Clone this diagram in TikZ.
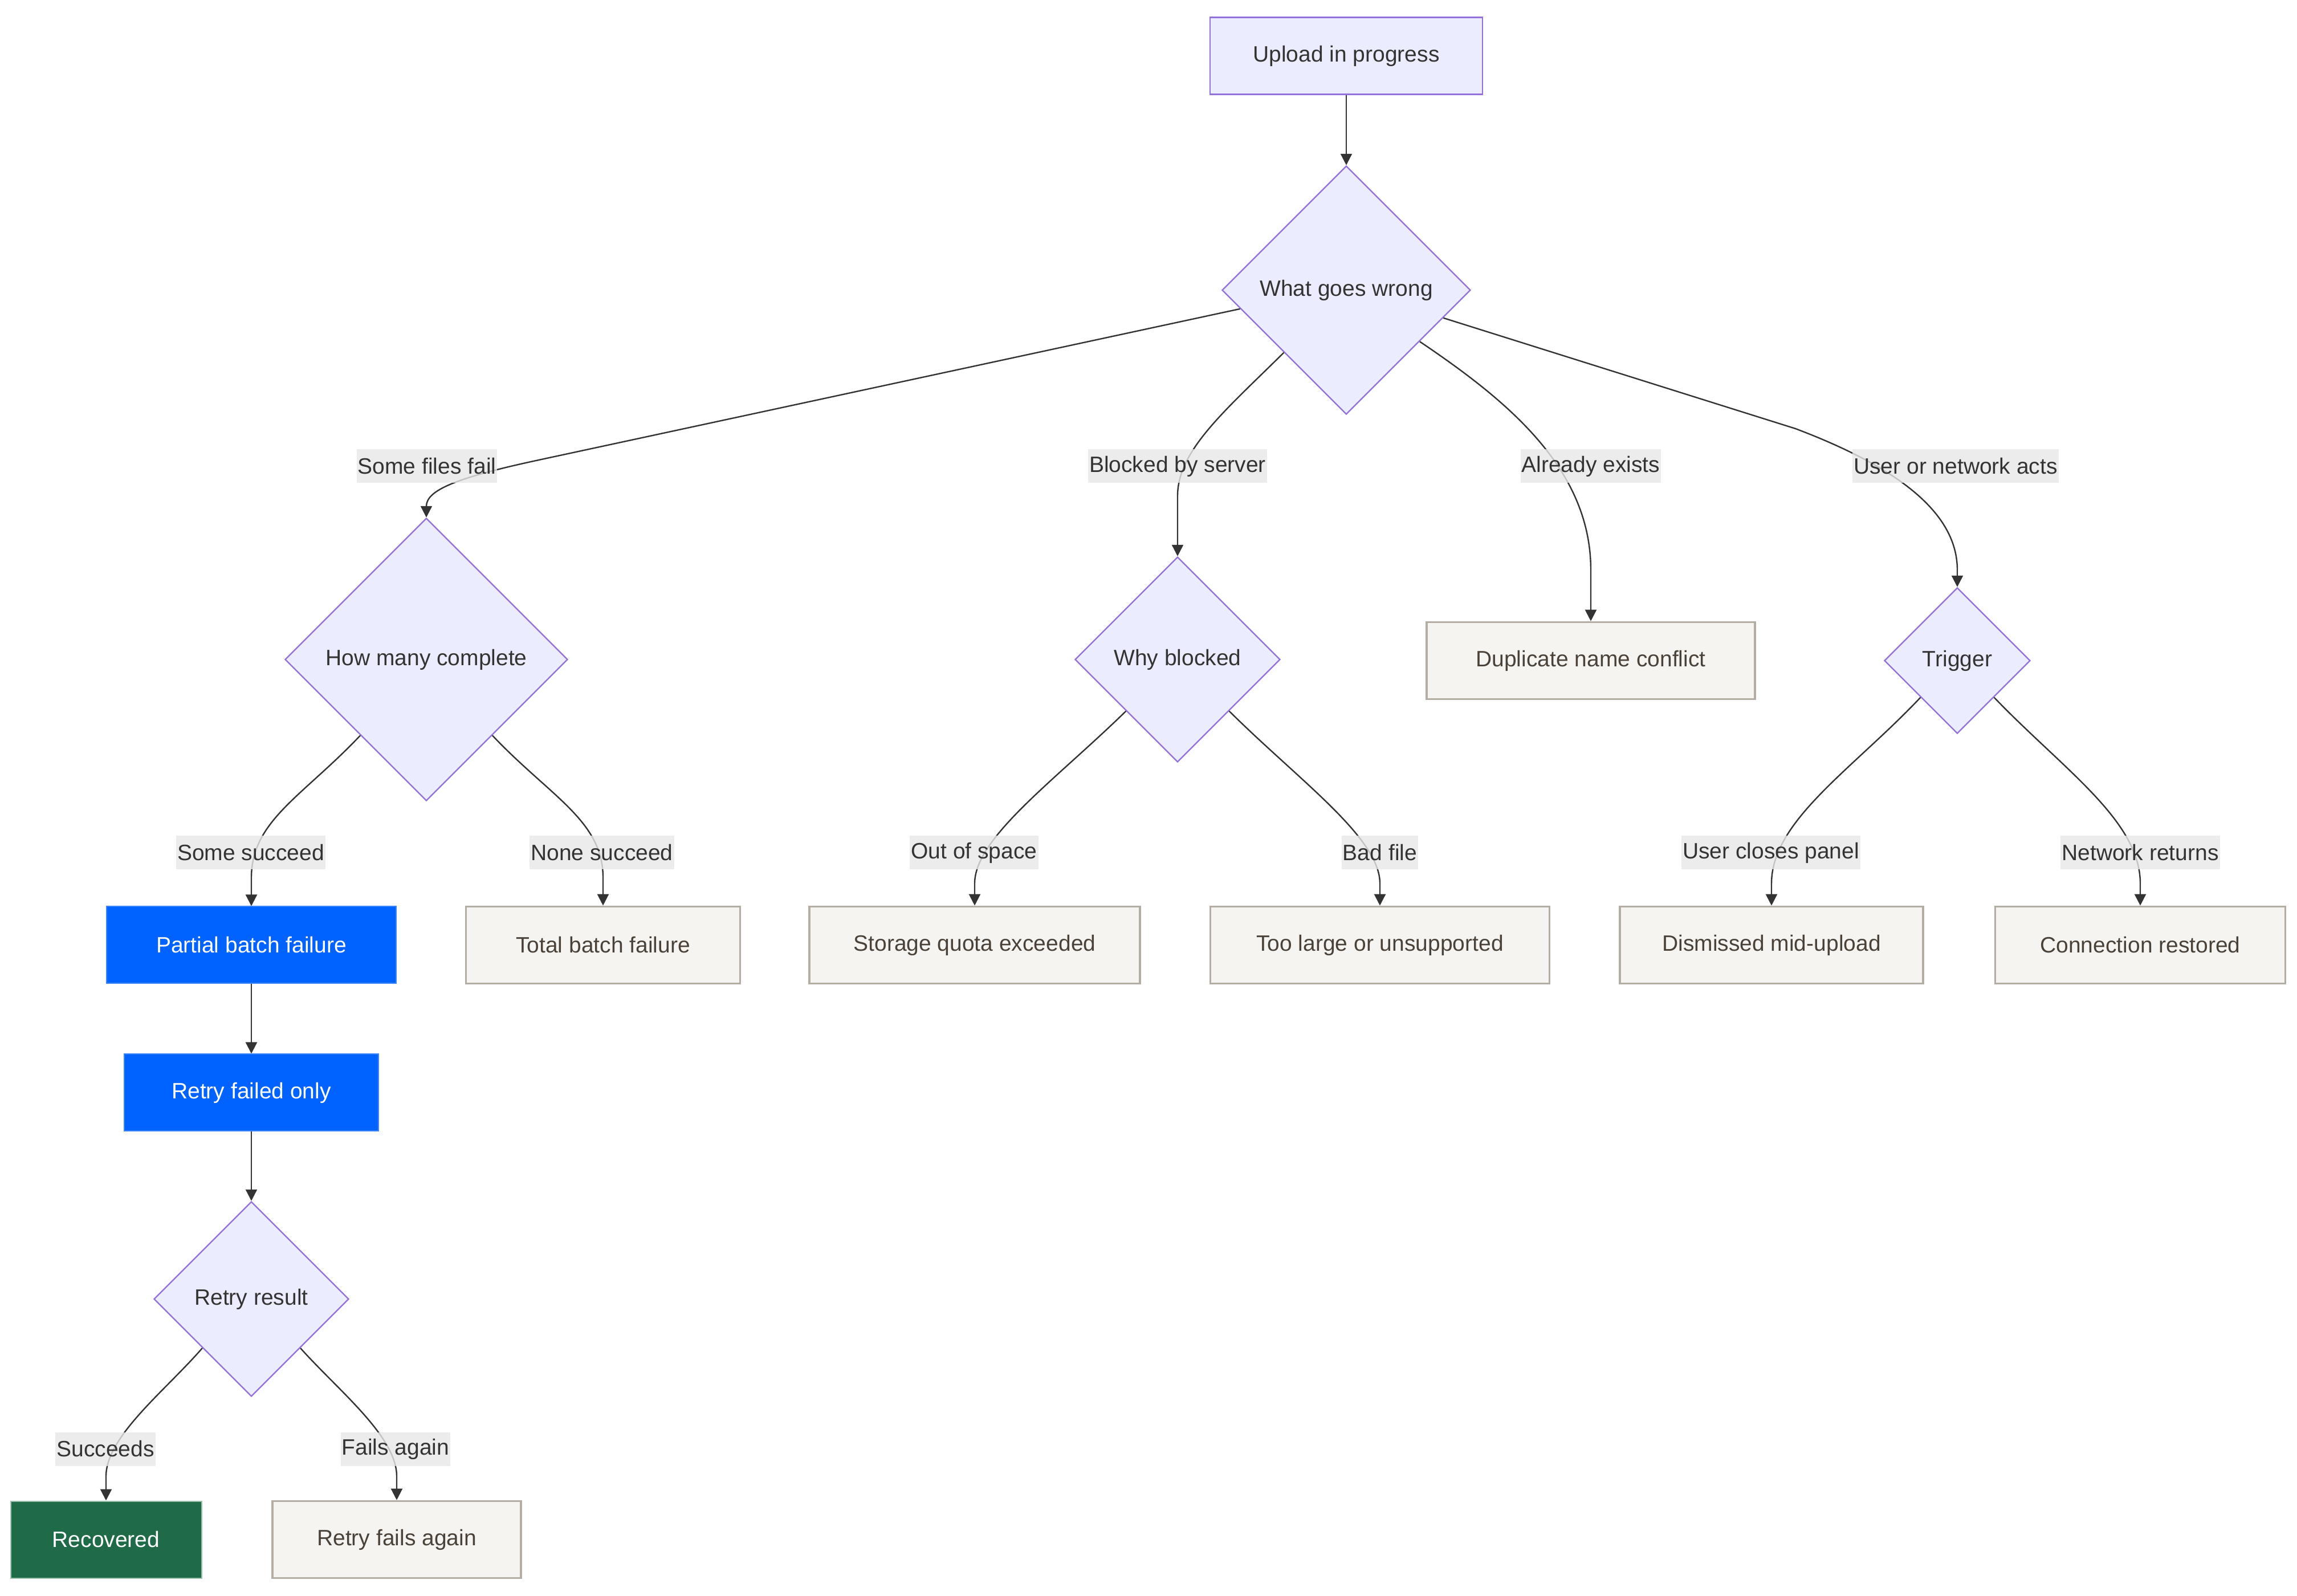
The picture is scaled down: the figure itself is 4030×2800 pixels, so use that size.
\documentclass[tikz,border=0pt]{standalone}
\usepackage{fontspec}
\setmainfont{Liberation Sans}
\usetikzlibrary{shapes.geometric,arrows.meta}
\definecolor{decfill}{HTML}{ECECFF}
\definecolor{decdraw}{HTML}{9370DB}
\definecolor{palefill}{HTML}{F5F4F0}
\definecolor{paledraw}{HTML}{B3ADA3}
\definecolor{paletext}{HTML}{4A4238}
\definecolor{bluefill}{HTML}{0062FF}
\definecolor{bluedraw}{HTML}{3D85FF}
\definecolor{greenfill}{HTML}{1F6B47}
\definecolor{greendraw}{HTML}{9CC2AC}
\definecolor{lblfill}{HTML}{E8E8E8}
\definecolor{ink}{HTML}{333333}
\begin{document}
\begin{tikzpicture}[x=0.25pt,y=-0.25pt,
  font=\fontsize{9.75}{11}\selectfont,
  base/.style={rectangle, inner sep=0pt, minimum height=33.75pt, text=ink},
  proc/.style={base, draw=decdraw, fill=decfill, line width=0.6pt},
  dec/.style={diamond, aspect=1, inner sep=0pt, draw=decdraw, fill=decfill, line width=0.6pt, text=ink},
  pale/.style={base, draw=paledraw, fill=palefill, line width=0.9pt, text=paletext},
  bluebox/.style={base, draw=bluedraw, fill=bluefill, line width=0.5pt, text=white},
  greenbox/.style={base, draw=greendraw, fill=greenfill, line width=0.5pt, text=white},
  conn/.style={draw=ink, line width=0.6pt, -{Triangle[length=5pt,width=5pt]}},
  lbl/.style={fill=lblfill, fill opacity=0.8, text opacity=1, text=ink, inner xsep=0.5pt, inner ysep=0pt, minimum height=14.75pt}
]
\fill[white] (0,0) rectangle (4030,2800);
\useasboundingbox (0,0) rectangle (4030,2800);

% nodes
\node[proc, minimum width=119.5pt] (A) at (2362,98) {Upload in progress};
\node[dec, minimum size=109pt] (B) at (2362,509) {What goes wrong};
\node[dec, minimum size=124pt] (C) at (748,1157) {How many complete};
\node[dec, minimum size=90pt] (D) at (2066,1157) {Why blocked};
\node[pale, minimum width=144pt] (E) at (2791,1159) {Duplicate name conflict};
\node[dec, minimum size=64pt] (F) at (3434,1159) {Trigger};
\node[bluebox, minimum width=127pt] (G) at (441,1658) {Partial batch failure};
\node[pale, minimum width=120.25pt] (H) at (1058,1658) {Total batch failure};
\node[pale, minimum width=145pt] (I) at (1710,1658) {Storage quota exceeded};
\node[pale, minimum width=148.75pt] (J) at (2421,1658) {Too large or unsupported};
\node[pale, minimum width=133pt] (K) at (3108,1658) {Dismissed mid-upload};
\node[pale, minimum width=127.25pt] (L) at (3755,1658) {Connection restored};
\node[bluebox, minimum width=111.5pt] (M) at (441,1917) {Retry failed only};
\node[dec, minimum size=85.5pt] (N) at (441,2279) {Retry result};
\node[greenbox, minimum width=83.75pt] (O) at (186,2701) {Recovered};
\node[pale, minimum width=109pt] (P) at (696,2701) {Retry fails again};

% connectors
\draw[conn] (A) -- (B);
\draw[conn] (B.190) -- (950,806) .. controls (800,838) and (748,860) .. (C.north);
\draw[conn] (B.225) .. controls (2150,720) and (2066,790) .. (2066,870) -- (D.north);
\draw[conn] (B.-35) .. controls (2640,700) and (2791,820) .. (2791,1000) -- (E.north);
\draw[conn] (B.-16) -- (3150,752) .. controls (3330,820) and (3434,900) .. (3434,1000) -- (F.north);
\draw[conn] (C.229) .. controls (530,1398) and (441,1440) .. (441,1540) -- (G.north);
\draw[conn] (C.-49) .. controls (966,1398) and (1058,1440) .. (1058,1540) -- (H.north);
\draw[conn] (D.225) .. controls (1850,1370) and (1710,1470) .. (1710,1550) -- (I.north);
\draw[conn] (D.-45) .. controls (2280,1370) and (2421,1470) .. (2421,1550) -- (J.north);
\draw[conn] (F.225) .. controls (3250,1350) and (3108,1440) .. (3108,1550) -- (K.north);
\draw[conn] (F.-45) .. controls (3620,1350) and (3755,1440) .. (3755,1550) -- (L.north);
\draw[conn] (G) -- (M);
\draw[conn] (M) -- (N);
\draw[conn] (N.225) .. controls (290,2440) and (186,2520) .. (186,2590) -- (O.north);
\draw[conn] (N.-45) .. controls (594,2440) and (696,2520) .. (696,2590) -- (P.north);

% edge labels
\node[lbl] (l1) at (749,818) {Some files fail};
\node[lbl] (l2) at (2066,818) {Blocked by server};
\node[lbl] (l3) at (2791,818) {Already exists};
\node[lbl] (l4) at (3431,818) {User or network acts};
\node[lbl] (l5) at (440,1496) {Some succeed};
\node[lbl] (l6) at (1056,1496) {None succeed};
\node[lbl] (l7) at (1709,1496) {Out of space};
\node[lbl] (l8) at (2421,1496) {Bad file};
\node[lbl] (l9) at (3107,1496) {User closes panel};
\node[lbl] (l10) at (3755,1496) {Network returns};
\node[lbl] (l11) at (185,2542) {Succeeds};
\node[lbl] (l12) at (694,2542) {Fails again};
\end{tikzpicture}
\end{document}
